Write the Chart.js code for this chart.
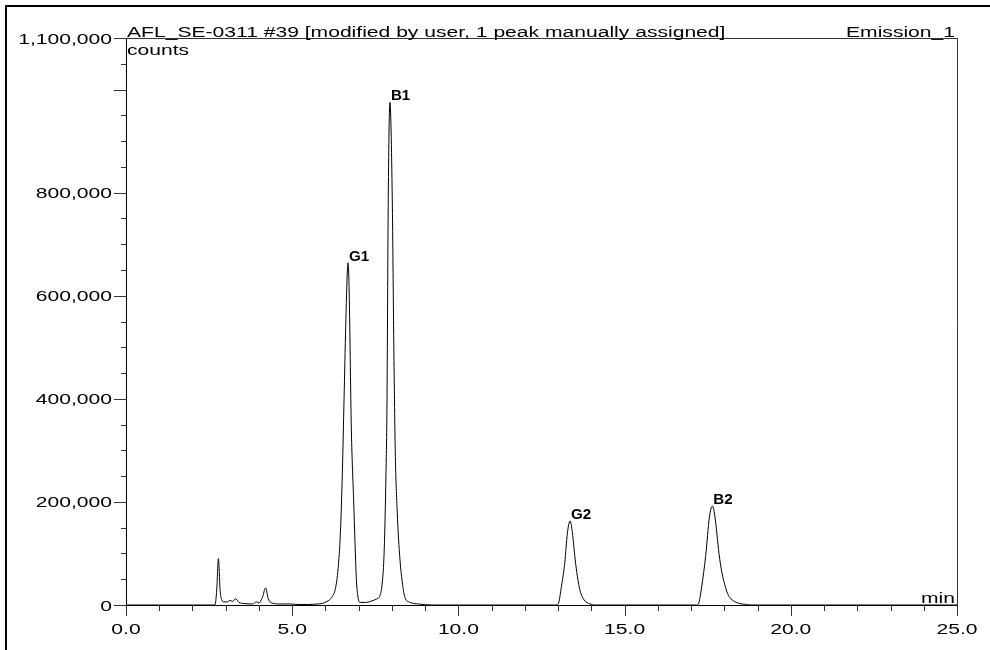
<!DOCTYPE html>
<html lang="en">
<head>
<meta charset="UTF-8">
<title>AFL_SE-0311 #39 - Emission_1</title>
<style>
  html, body { margin: 0; padding: 0; background: #fff; }
  #wrap { position: relative; width: 990px; height: 650px; }
</style>
</head>
<body>
<div id="wrap"><canvas id="myChart"></canvas></div>
<script src="https://cdn.jsdelivr.net/npm/chart.js@4.4.0/dist/chart.umd.min.js"></script>
<script>
// retention time (min) and detector response (counts)
const times = [
  0, 2.60, 2.68, 2.73, 2.78, 2.83, 2.88, 2.95, 3.05, 3.13, 3.20, 3.30, 3.40, 3.55,
  3.80, 3.93, 4.00, 4.10, 4.20, 4.28, 4.38, 4.60, 4.93, 5.20, 5.50, 5.75, 5.90,
  6.05, 6.19, 6.30, 6.38, 6.45, 6.51, 6.56, 6.61, 6.66, 6.68, 6.71, 6.78, 6.85, 6.89, 6.93, 6.98,
  7.04, 7.20, 7.40, 7.55, 7.64, 7.72, 7.77, 7.82, 7.85, 7.89, 7.94, 8.01, 8.06, 8.10, 8.16, 8.24,
  8.32, 8.39, 8.55, 8.80, 9.20,
  12.90, 13.00, 13.10, 13.20, 13.28, 13.36, 13.43, 13.51, 13.58, 13.66, 13.78, 13.96, 14.10,
  17.15, 17.22, 17.32, 17.44, 17.55, 17.64, 17.72, 17.84, 17.93, 18.02, 18.10, 18.20, 18.40, 18.67, 18.80,
  25.0
];
const counts = [
  0, 0, 1000, 30000, 90000, 30000, 10000, 6000, 6000, 9000, 7000, 12000, 5000, 3000,
  2000, 6000, 4000, 14000, 33000, 12000, 4000, 2000, 2000, 1000, 1000, 2000, 3000,
  7000, 15000, 32000, 70000, 140000, 260000, 400000, 540000, 650000, 664000, 620000, 340000, 200000, 120000, 50000, 15000,
  5000, 5000, 8000, 12000, 18000, 50000, 110000, 250000, 380000, 790000, 975000, 790000, 487000, 300000, 180000, 90000,
  40000, 15000, 5000, 2000, 0,
  0, 2000, 36000, 82000, 140000, 163000, 140000, 90000, 55000, 28000, 10000, 2000, 0,
  0, 2000, 36000, 96000, 170000, 192000, 170000, 100000, 62000, 38000, 22000, 12000, 4000, 1000, 0,
  0
];

// peak annotations
const peakNames = ['G1', 'B1', 'G2', 'B2'];
const peakTimes = [6.68, 7.94, 13.36, 17.64];
const peakCounts = [664000, 975000, 163000, 192000];

// axis ticks
const xTickValues = [0, 5, 10, 15, 20, 25];
const xTickLabels = ['0.0', '5.0', '10.0', '15.0', '20.0', '25.0'];
const yTickValues = [0, 200000, 400000, 600000, 800000, 1100000];
const yTickLabels = ['0', '200,000', '400,000', '600,000', '800,000', '1,100,000'];
const yLongTicks = [0, 200000, 400000, 600000, 800000, 1000000, 1100000];

const title = 'AFL_SE-0311 #39 [modified by user, 1 peak manually assigned]';
const channel = 'Emission_1';

const SX = 1.36; // the labels in the print are stretched sideways
const FONT = '15.5px "Liberation Sans", Arial, sans-serif';

function wideText(ctx, str, x, y, align, sx) {
  ctx.save();
  ctx.translate(x, y);
  ctx.scale(sx, 1);
  ctx.textAlign = align;
  ctx.textBaseline = 'alphabetic';
  ctx.fillText(str, 0, 0);
  ctx.restore();
}

const decor = {
  id: 'decor',
  afterDraw(chart) {
    const ctx = chart.ctx;
    const xs = chart.scales.x, ys = chart.scales.y;
    const a = chart.chartArea;
    ctx.save();
    ctx.fillStyle = '#000';
    ctx.strokeStyle = '#000';

    // page frame (left + top)
    ctx.lineWidth = 2;
    ctx.beginPath();
    ctx.moveTo(6, 650);
    ctx.lineTo(6, 6);
    ctx.lineTo(990, 6);
    ctx.stroke();

    // top and right edge of the plot box
    ctx.lineWidth = 1;
    ctx.strokeStyle = '#333';
    ctx.beginPath();
    ctx.moveTo(a.left, a.top + 0.5);
    ctx.lineTo(a.right + 0.5, a.top + 0.5);
    ctx.lineTo(a.right + 0.5, a.bottom);
    ctx.stroke();

    // y ticks
    ctx.beginPath();
    for (let v = 0; v <= 1100000; v += 50000) {
      const y = Math.round(ys.getPixelForValue(v)) + 0.5;
      const len = yLongTicks.includes(v) ? 12 : 5;
      ctx.moveTo(a.left - len, y);
      ctx.lineTo(a.left, y);
    }
    // x ticks
    for (let t = 0; t <= 25; t += 1) {
      const x = Math.round(xs.getPixelForValue(t)) + 0.5;
      const len = t % 5 === 0 ? 11 : 6;
      ctx.moveTo(x, a.bottom);
      ctx.lineTo(x, a.bottom + len);
    }
    ctx.stroke();

    ctx.font = FONT;
    yTickValues.forEach((v, i) => {
      wideText(ctx, yTickLabels[i], a.left - 14, ys.getPixelForValue(v) + 5.5, 'right', SX);
    });
    xTickValues.forEach((v, i) => {
      wideText(ctx, xTickLabels[i], xs.getPixelForValue(v), a.bottom + 29, 'center', SX);
    });

    wideText(ctx, title, a.left + 1, a.top - 1, 'left', SX);
    wideText(ctx, 'counts', a.left + 1, a.top + 17, 'left', SX);
    wideText(ctx, channel, a.right - 2, a.top - 1, 'right', SX);
    wideText(ctx, 'min', a.right - 2, a.bottom - 2, 'right', SX);

    ctx.font = 'bold 14px "Liberation Sans", Arial, sans-serif';
    peakNames.forEach((n, i) => {
      wideText(ctx, n, xs.getPixelForValue(peakTimes[i]) + 1, ys.getPixelForValue(peakCounts[i]) - 2, 'left', 1.08);
    });
    ctx.restore();
  }
};

const points = times.map((t, i) => ({ x: t, y: counts[i] }));

new Chart(document.getElementById('myChart'), {
  type: 'line',
  data: {
    datasets: [{
      data: points,
      borderColor: '#000',
      borderWidth: 1,
      pointRadius: 0,
      cubicInterpolationMode: 'monotone',
      fill: false
    }]
  },
  options: {
    responsive: true,
    maintainAspectRatio: false,
    animation: false,
    layout: { padding: { left: 118, right: 33, top: 38, bottom: 37 } },
    plugins: { legend: { display: false }, tooltip: { enabled: false } },
    scales: {
      x: {
        type: 'linear', min: 0, max: 25,
        ticks: { display: false },
        grid: { display: false },
        border: { display: true, color: '#000', width: 1 }
      },
      y: {
        type: 'linear', min: 0, max: 1100000,
        ticks: { display: false },
        grid: { display: false },
        border: { display: true, color: '#000', width: 1 }
      }
    }
  },
  plugins: [decor]
});
</script>
</body>
</html>
